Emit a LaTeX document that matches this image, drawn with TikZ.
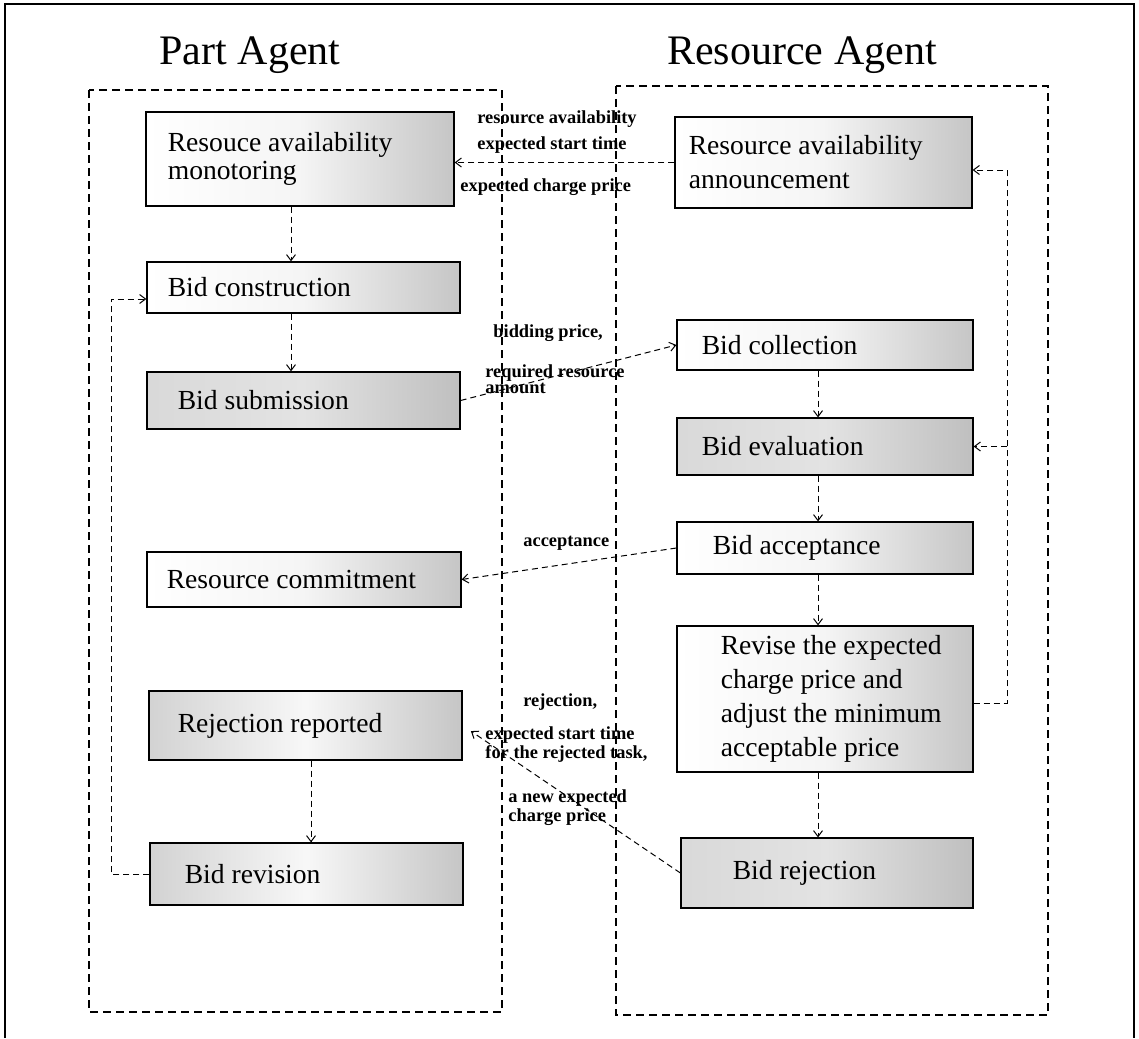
\documentclass[tikz,border=0pt]{standalone}
\usepackage{fontspec}
\setmainfont{Liberation Serif}
\usetikzlibrary{arrows.meta}

\newcommand\tightlines{\setlength{\lineskiplimit}{-20pt}}

\tikzset{
  box/.style={draw, line width=0.6pt, inner sep=0pt},
  pale/.style={left color=white, right color=gray!45, middle color=gray!8},
  dim/.style={left color=gray!30, right color=gray!50, middle color=gray!22},
  edge/.style={left color=gray!35, right color=gray!45, middle color=gray!6},
  txt/.style={inner sep=0pt, align=left, font=\fontsize{13.8}{17}\selectfont},
  lbl/.style={inner sep=0pt, anchor=west, align=left,
    font={\fontsize{9.2}{#1}\selectfont\bfseries\tightlines}},
  lbl/.default=11,
  flow/.style={dash pattern=on 3pt off 2pt, line width=0.5pt,
    -{Straight Barb[length=3pt,width=4.5pt]}},
  agent/.style={dash pattern=on 4pt off 2.5pt, line width=1pt},
}

\begin{document}
\begin{tikzpicture}[x=0.5pt, y=-0.5pt]
  \fill[white] (0,0) rectangle (1139,1038);
  \useasboundingbox (0,0) rectangle (1139,1038);
  \draw[line width=1pt] (5,1038) -- (5,4) -- (1134,4) -- (1134,1038);

  % the two agents
  \node[anchor=base, font=\fontsize{21}{25}\selectfont] (ptitle) at (250,65) {Part Agent};
  \node[anchor=base, font=\fontsize{21}{25}\selectfont] (rtitle) at (802,65) {Resource Agent};
  \draw[agent] (89,90) rectangle (502,1012);
  \draw[agent] (616,86) rectangle (1048,1015);

  % part agent
  \node[box, pale, minimum width=154pt, minimum height=47pt] (a1) at (300,159) {};
  \node[txt, right=11pt] at (a1.west) {Resouce availability\\[-3pt]monotoring};
  \node[box, pale, minimum width=156.5pt, minimum height=25.5pt] (a2) at (303.5,287.5) {};
  \node[txt, right=10.5pt] at (a2.west) {Bid construction};
  \node[box, dim, minimum width=156.5pt, minimum height=28.5pt] (a3) at (303.5,400.5) {};
  \node[txt, right=15.5pt] at (a3.west) {Bid submission};
  \node[box, pale, minimum width=157pt, minimum height=27.5pt] (a4) at (304,579.5) {};
  \node[txt, right=10pt] at (a4.west) {Resource commitment};
  \node[box, edge, minimum width=156.5pt, minimum height=34.5pt] (a5) at (305.5,725.5) {};
  \node[txt, right=14.5pt] at (a5.west) {Rejection reported};
  \node[box, edge, minimum width=156.5pt, minimum height=31pt] (a6) at (306.5,874) {};
  \node[txt, right=17.5pt] at (a6.west) {Bid revision};

  % resource agent
  \node[box, pale, minimum width=148.5pt, minimum height=45.5pt] (b1) at (823.5,162.5) {};
  \node[txt, right=7pt] at (b1.west) {Resource availability\\announcement};
  \node[box, pale, minimum width=148pt, minimum height=25pt] (b2) at (825,345) {};
  \node[txt, right=12.5pt] at (b2.west) {Bid collection};
  \node[box, dim, minimum width=148pt, minimum height=28.5pt] (b3) at (825,446.5) {};
  \node[txt, right=12.5pt] at (b3.west) {Bid evaluation};
  \node[box, pale, minimum width=148pt, minimum height=26pt] (b4) at (825,548) {};
  \node[txt, right=18pt] at (b4.west) {Bid acceptance};
  \node[box, pale, minimum width=148pt, minimum height=73pt] (b5) at (825,699) {};
  \node[txt, right=22pt] at (b5.west) {Revise the expected\\charge price and\\adjust the minimum\\acceptable price};
  \node[box, dim, minimum width=146pt, minimum height=35pt] (b6) at (827,873) {};
  \node[txt, right=26pt] at (b6.west) {Bid rejection};

  % columns of the arrows
  \coordinate (lcol) at (291,0);
  \coordinate (lcol2) at (311,0);
  \coordinate (rcol) at (818,0);
  \coordinate (lfb) at (111,0);
  \coordinate (rfb) at (1007,0);

  \draw[flow] (a1.south -| lcol) -- (a2.north -| lcol);
  \draw[flow] (a2.south -| lcol) -- (a3.north -| lcol);
  \draw[flow] (a5.south -| lcol2) -- (a6.north -| lcol2);
  \foreach \u/\v in {b2/b3, b3/b4, b4/b5, b5/b6}
    \draw[flow] (\u.south -| rcol) -- (\v.north -| rcol);

  % messages between the agents
  \draw[flow] (b1.west) -- (b1.west -| a1.east);
  \draw[flow] (a3.east) -- (b2.west);
  \draw[flow] (b4.west) -- (a4.east);
  \draw[flow, shorten >=5pt] (b6.west) -- (a5.east);

  % feedback loops
  \draw[flow] (a6.west) -- (a6.west -| lfb) |- ([yshift=-5.75pt]a2.west);
  \draw[flow] ([yshift=-2pt]b5.east) -| ([yshift=-3.75pt]b1.east -| rfb) -- ([yshift=-3.75pt]b1.east);
  \draw[flow] (b3.east -| rfb) -- (b3.east);

  % labels
  \node[lbl] (l1) at (477,119) {resource availability};
  \node[lbl] (l2) at (477,145) {expected start time};
  \node[lbl] (l3) at (460,187) {expected charge price};
  \node[lbl] (l4) at (493,333) {bidding price,};
  \node[lbl=8] (l5) at (485,379) {required resource\\amount};
  \node[lbl] (l6) at (523,543) {acceptance};
  \node[lbl] (l7) at (523,702) {rejection,};
  \node[lbl=9.5] (l8) at (485,744.5) {expected start time\\for the rejected task,};
  \node[lbl=9.5] (l9) at (508,807.5) {a new expected\\charge price};
\end{tikzpicture}
\end{document}
